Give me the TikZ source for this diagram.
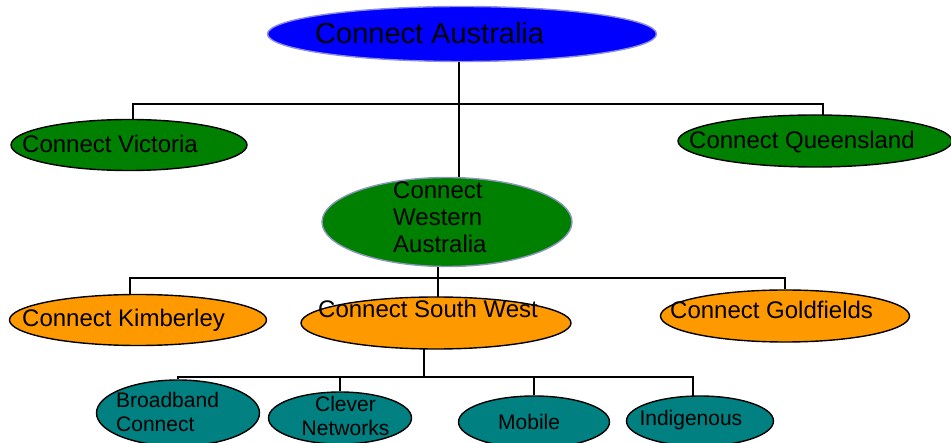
\documentclass[tikz,border=0pt]{standalone}
\usepackage{fontspec}
\setmainfont{Liberation Sans}
\usetikzlibrary{shapes.geometric,backgrounds}
\definecolor{ausblue}{RGB}{0,0,255}
\definecolor{stategreen}{RGB}{0,128,0}
\definecolor{regorange}{RGB}{255,153,0}
\definecolor{progteal}{RGB}{0,128,128}
\definecolor{softedge}{RGB}{140,140,225}
\definecolor{grayedge}{RGB}{140,150,190}

\begin{document}
\begin{tikzpicture}
[
x=1pt, y=-1pt,
myoval/.style={ellipse, draw=black, line width=1.4pt, inner sep=0pt},
tbox/.style={inner sep=0pt, anchor=base west, font=\fontsize{24}{27}\selectfont},
sbox/.style={inner sep=0pt, anchor=base west, font=\fontsize{21}{24}\selectfont},
conn/.style={draw=black, line width=1.3pt},
]
\useasboundingbox (0,0) rectangle (951,443);
\clip (0,0) rectangle (951,443);

\node at (462,34) [myoval, fill=ausblue, draw=softedge, minimum width=389pt, minimum height=55pt] (aus) {};
\node at (129,145) [myoval, fill=stategreen, minimum width=236pt, minimum height=51pt] (vic) {};
\node at (815,141) [myoval, fill=stategreen, minimum width=274pt, minimum height=52pt] (qld) {};
\node at (447,222) [myoval, fill=stategreen, draw=grayedge, minimum width=250pt, minimum height=89pt] (wa) {};
\node at (138,320) [myoval, fill=regorange, minimum width=257pt, minimum height=51pt] (kim) {};
\node at (436,323) [myoval, fill=regorange, minimum width=270pt, minimum height=52pt] (sw) {};
\node at (785,316) [myoval, fill=regorange, minimum width=249pt, minimum height=52pt] (gold) {};
\node at (178,413) [myoval, fill=progteal, minimum width=163pt, minimum height=66pt] (bb) {};
\node at (340,418) [myoval, fill=progteal, minimum width=143pt, minimum height=52pt] (clev) {};
\node at (534,422) [myoval, fill=progteal, minimum width=151pt, minimum height=52pt] (mob) {};
\node at (700,421) [myoval, fill=progteal, minimum width=147pt, minimum height=50pt] (ind) {};

% multi-line texts sit on their last baseline
\node at (315,43.3) [tbox, font=\fontsize{29}{32}\selectfont] (ausT) {Connect Australia};
\node at (22,152.7) [tbox] (vicT) {Connect Victoria};
\node at (689,149) [tbox] (qldT) {Connect Queensland};
\node at (393,253) [tbox, align=left] (waT) {Connect\\Western\\Australia};
\node at (22,326.7) [tbox] (kimT) {Connect Kimberley};
\node at (318,317.3) [tbox] (swT) {Connect South West};
\node at (670,319) [tbox] (goldT) {Connect Goldfields};
\node at (116,431.7) [sbox, align=left] (bbT) {Broadband\\Connect};
\node at (345.5,435.7) [sbox, anchor=base, align=center] (clevT) {Clever\\Networks};
\node at (498,429.3) [sbox] (mobT) {Mobile};
\node at (639.3,425.7) [sbox] (indT) {Indigenous};

\coordinate (ausj) at (459,104);
\coordinate (waj) at (438,278);
\coordinate (swj) at (424,377);

\begin{scope}[on background layer]
\draw[conn] (ausj |- aus) -- (ausj |- wa);
\draw[conn] ([xshift=4pt]vic.center) |- (ausj) -| ([xshift=8pt]qld.center);
\draw[conn] (waj |- wa) -- (waj |- sw);
\draw[conn] ([xshift=-8pt]kim.center) |- (waj) -| (gold);
\draw[conn] (swj |- sw) -- (swj);
\draw[conn] (bb) |- (swj) -| ([xshift=-7pt]ind.center);
\draw[conn] (clev) -- (clev |- swj);
\draw[conn] (mob) -- (mob |- swj);
\end{scope}
\end{tikzpicture}
\end{document}
